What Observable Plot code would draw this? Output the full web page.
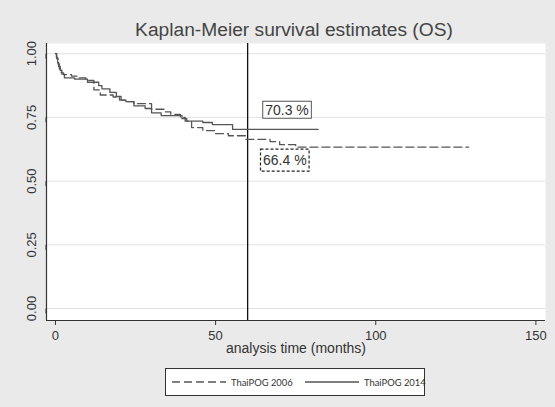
<!DOCTYPE html>
<html><head><meta charset="utf-8">
<script src="https://cdn.jsdelivr.net/npm/d3@7"></script>
<script src="https://cdn.jsdelivr.net/npm/@observablehq/plot@0.6"></script>
<style>
body{margin:0;background:#eaeaea;}
#wrap{position:relative;width:555px;height:407px;background:#eaeaea;font-family:"Liberation Sans",Arial,sans-serif;overflow:hidden;}
#title{position:absolute;left:33px;width:522px;top:17px;text-align:center;font-size:19.2px;color:#444;line-height:26px;white-space:nowrap;}
#chart{position:absolute;left:0;top:40px;}
#legend{position:absolute;left:165px;top:368px;width:258px;height:26px;background:#fff;border:1px solid #333;font-family:Lato,"Open Sans",sans-serif;font-size:9.4px;color:#333;}
#legend .item{position:absolute;top:0;height:26px;display:flex;align-items:center;white-space:nowrap;}
#legend svg{margin-right:5px;}
</style>
</head><body>
<div id="wrap">
  <div id="title"></div>
  <div id="chart"></div>
  <div id="legend"></div>
</div>
<script>
const titleText = "Kaplan-Meier survival estimates (OS)";
const xLabel = "analysis time (months)";
const seriesNames = ["ThaiPOG 2006", "ThaiPOG 2014"];
const seriesDash = ["8,4", null];

const time2006 = [0, 0.4, 0.8, 1.2, 1.8, 2.5, 5, 7, 9.5, 12, 14, 18, 20, 22, 24.5, 30, 34, 36, 39, 40.5, 42.5, 46, 50, 54, 59.4, 67, 70, 75, 129];
const surv2006 = [1.0, 0.98, 0.96, 0.94, 0.925, 0.918, 0.912, 0.905, 0.895, 0.858, 0.838, 0.83, 0.818, 0.812, 0.804, 0.782, 0.772, 0.762, 0.75, 0.735, 0.71, 0.698, 0.686, 0.678, 0.664, 0.655, 0.643, 0.633, 0.633];

const time2014 = [0, 0.3, 0.7, 1.0, 1.5, 2.0, 2.8, 6, 10, 13.5, 14.5, 17, 19, 20.5, 22, 24.5, 28, 30, 33, 39.5, 41, 46, 49, 55.3, 82];
const surv2014 = [1.0, 0.985, 0.965, 0.95, 0.935, 0.92, 0.905, 0.9, 0.888, 0.875, 0.862, 0.848, 0.832, 0.818, 0.812, 0.795, 0.785, 0.768, 0.757, 0.745, 0.735, 0.73, 0.722, 0.703, 0.703];

const xTicks = [0, 50, 100, 150];
const yTicks = [0, 0.25, 0.5, 0.75, 1];
const xDomain = [-2.8, 153];
const yDomain = [-0.047, 1.04];
const landmark = [60];

const annotLabels = ["70.3 %", "66.4 %"];
const annotTime = [72.3, 71.6];
const annotSurv = [0.778, 0.58];
const annotDash = [null, "3,2"];

document.getElementById("title").textContent = titleText;

const d2006 = time2006.map((t, i) => ({time: t, surv: surv2006[i]}));
const d2014 = time2014.map((t, i) => ({time: t, surv: surv2014[i]}));
const annots = annotLabels.map((l, i) => ({label: l, time: annotTime[i], surv: annotSurv[i], dash: annotDash[i]}));

const chart = Plot.plot({
  width: 555, height: 330,
  marginTop: 3, marginLeft: 46, marginRight: 10, marginBottom: 50,
  x: {domain: xDomain},
  y: {domain: yDomain},
  style: {background: "transparent", fontFamily: "'Liberation Sans', Arial, sans-serif", color: "#333"},
  marks: [
    Plot.frame({fill: "white", stroke: null}),
    Plot.gridY(yTicks, {stroke: "#e2e2e2", strokeOpacity: 1}),
    Plot.ruleY([yDomain[0]], {stroke: "#333", strokeWidth: 1.2}),
    Plot.ruleX([xDomain[0]], {stroke: "#333", strokeWidth: 1.2}),
    Plot.axisY(yTicks, {tickFormat: d3.format(".2f"), rotate: -90, textAnchor: "middle", tickSize: 5, tickPadding: 10, fontSize: 13, label: null, stroke: "#333"}),
    Plot.axisX(xTicks, {tickSize: 5, tickPadding: 5, fontSize: 13, label: null, stroke: "#333"}),
    Plot.text([xLabel], {frameAnchor: "bottom", dy: 32, fontSize: 14, fill: "#333"}),
    Plot.ruleX(landmark, {stroke: "#111", strokeWidth: 1.3}),
    Plot.line(d2006, {x: "time", y: "surv", curve: "step-after", stroke: "#555", strokeWidth: 1.3, strokeDasharray: seriesDash[0]}),
    Plot.line(d2014, {x: "time", y: "surv", curve: "step-after", stroke: "#555", strokeWidth: 1.3}),
    Plot.text(annots, {x: "time", y: "surv", text: "label", fontSize: 14, fill: "#333"})
  ]
});
document.getElementById("chart").appendChild(chart);

// draw boxes around annotation labels
chart.querySelectorAll("text").forEach(t => {
  const i = annotLabels.indexOf(t.textContent);
  if (i < 0) return;
  const bb = t.getBBox();
  const padX = 2.5, padY = annotDash[i] ? 3 : 0.5;
  const r = document.createElementNS("http://www.w3.org/2000/svg", "rect");
  r.setAttribute("x", bb.x - padX);
  r.setAttribute("y", bb.y - padY);
  r.setAttribute("width", bb.width + 2 * padX);
  r.setAttribute("height", bb.height + 2 * padY);
  const tr = t.getAttribute("transform");
  if (tr) r.setAttribute("transform", tr);
  r.setAttribute("fill", "white");
  r.setAttribute("stroke", annotDash[i] ? "#222" : "#555");
  r.setAttribute("stroke-width", annotDash[i] ? 1.2 : 1);
  if (annotDash[i]) r.setAttribute("stroke-dasharray", annotDash[i]);
  t.parentNode.insertBefore(r, t);
});

// legend
const legend = document.getElementById("legend");
const legendLeft = [6, 139];
seriesNames.forEach((name, i) => {
  const item = document.createElement("div");
  item.className = "item";
  item.style.left = legendLeft[i] + "px";
  const svg = d3.create("svg").attr("width", 54).attr("height", 10);
  svg.append("line").attr("x1", 0).attr("x2", 54).attr("y1", 5).attr("y2", 5)
    .attr("stroke", "#555").attr("stroke-width", 1.3)
    .attr("stroke-dasharray", seriesDash[i]);
  item.appendChild(svg.node());
  const span = document.createElement("span");
  span.textContent = name;
  item.appendChild(span);
  legend.appendChild(item);
});
</script>
</body></html>
